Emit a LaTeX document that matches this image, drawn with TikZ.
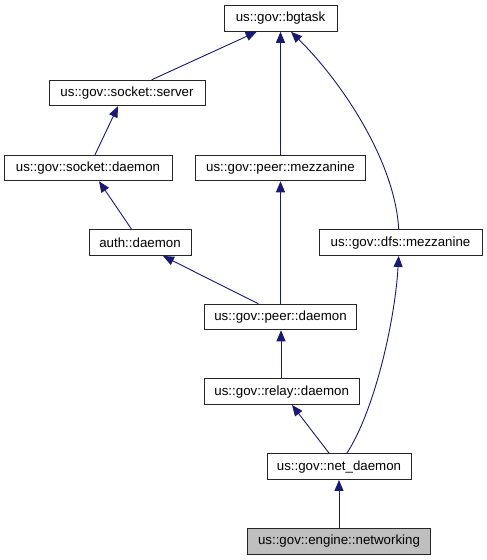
\documentclass[tikz,border=0pt]{standalone}
\usepackage{fontspec}
\setmainfont{Liberation Sans}
\usetikzlibrary{arrows.meta}
\definecolor{edgeblue}{HTML}{191970}
\definecolor{curgray}{HTML}{BFBFBF}
\tikzset{
  cls/.style={draw=black!85, line width=1pt, fill=white, inner sep=0pt,
    minimum height=25.5pt, font=\fontsize{13.3}{16}\selectfont, text=black},
  cur/.style={cls, fill=curgray},
  edge/.style={draw=edgeblue, line width=0.9pt,
    {Triangle[length=11pt,width=9pt,fill=edgeblue]}-}
}
\begin{document}
\begin{tikzpicture}[x=1pt,y=-1pt]
\useasboundingbox (0,0) rectangle (487,560);
\node[cls, minimum width=113pt] (bgtask) at (280.5,18.5) {us::gov::bgtask};
\node[cls, minimum width=156pt] (server) at (127,93) {us::gov::socket::server};
\node[cls, minimum width=168pt] (sdaemon) at (88,168) {us::gov::socket::daemon};
\node[cls, minimum width=170pt] (pmezz) at (280.5,168) {us::gov::peer::mezzanine};
\node[cls, minimum width=102pt] (auth) at (140,242.7) {auth::daemon};
\node[cls, minimum width=163pt] (dfs) at (400.5,242.7) {us::gov::dfs::mezzanine};
\node[cls, minimum width=152pt] (pdaemon) at (280.5,317) {us::gov::peer::daemon};
\node[cls, minimum width=155pt] (relay) at (281.7,391.7) {us::gov::relay::daemon};
\node[cls, minimum width=144pt] (net) at (339,466.7) {us::gov::net\_daemon};
\node[cur, minimum width=183pt] (netw) at (339,541.3) {us::gov::engine::networking};

\draw[edge] ([xshift=-23.8pt]bgtask.south) -- ([xshift=24.7pt]server.north);
\draw[edge] (bgtask.south) -- (pmezz.north);
\draw[edge] ([xshift=10.5pt]bgtask.south) .. controls (340,80) and (395,160) .. ([xshift=-1.8pt]dfs.north);
\draw[edge] ([xshift=-9pt]server.south) -- ([xshift=7pt]sdaemon.north);
\draw[edge] ([xshift=11pt]sdaemon.south) -- ([xshift=-8.3pt]auth.north);
\draw[edge] ([xshift=23pt]auth.south) -- ([xshift=-22.2pt]pdaemon.north);
\draw[edge] (pmezz.south) -- (pdaemon.north);
\draw[edge] ([xshift=0.5pt]pdaemon.south) -- ([xshift=-0.7pt]relay.north);
\draw[edge] ([xshift=10.3pt]relay.south) -- ([xshift=-9.7pt]net.north);
\draw[edge] ([xshift=-1.8pt]dfs.south) .. controls (395,320) and (375,410) .. ([xshift=7.7pt]net.north);
\draw[edge] (net.south) -- (netw.north);
\end{tikzpicture}
\end{document}
